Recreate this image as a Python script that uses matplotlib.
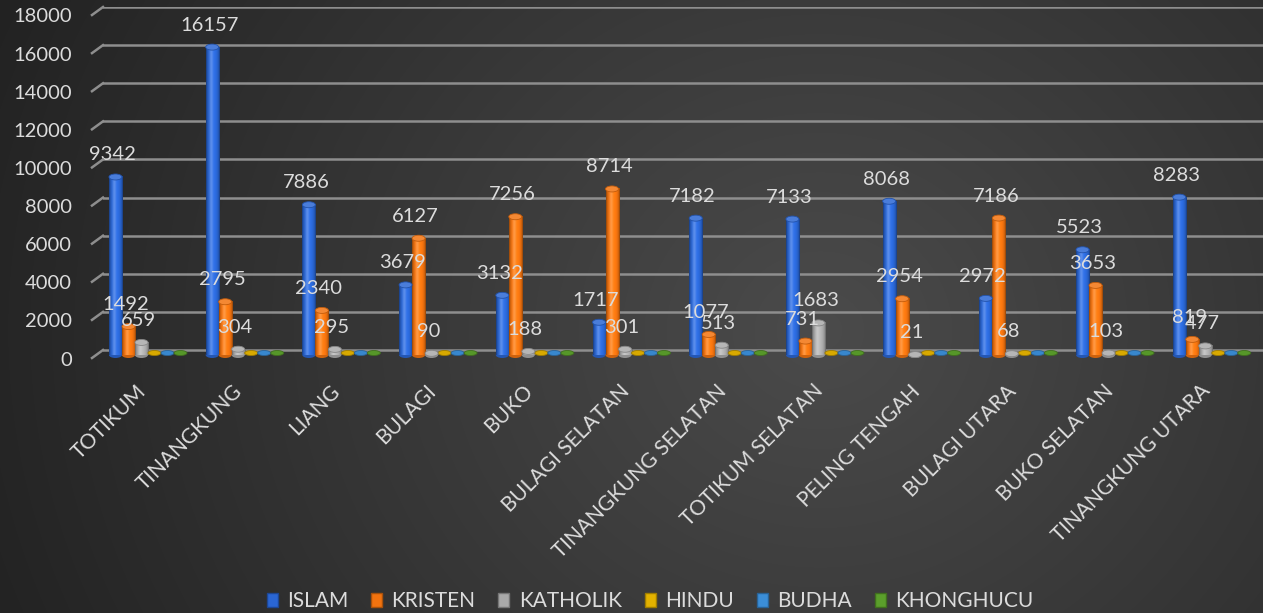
import numpy as np
import matplotlib
matplotlib.use("Agg")
import matplotlib.pyplot as plt
import matplotlib.colors as mcolors
from matplotlib.patches import Ellipse, Patch
from matplotlib.lines import Line2D

# ---------------- data ----------------
categories = ["TOTIKUM", "TINANGKUNG", "LIANG", "BULAGI", "BUKO", "BULAGI SELATAN",
              "TINANGKUNG SELATAN", "TOTIKUM SELATAN", "PELING TENGAH", "BULAGI UTARA",
              "BUKO SELATAN", "TINANGKUNG UTARA"]
islam = [9342, 16157, 7886, 3679, 3132, 1717, 7182, 7133, 8068, 2972, 5523, 8283]
kristen = [1492, 2795, 2340, 6127, 7256, 8714, 1077, 731, 2954, 7186, 3653, 819]
katholik = [659, 304, 295, 90, 188, 301, 513, 1683, 21, 68, 103, 477]
hindu = [0, 0, 0, 0, 0, 0, 0, 0, 0, 0, 0, 0]
budha = [0, 0, 0, 0, 0, 0, 0, 0, 0, 0, 0, 0]
khonghucu = [0, 0, 0, 0, 0, 0, 0, 0, 0, 0, 0, 0]
series_names = ["ISLAM", "KRISTEN", "KATHOLIK", "HINDU", "BUDHA", "KHONGHUCU"]
y_ticks = [0, 2000, 4000, 6000, 8000, 10000, 12000, 14000, 16000, 18000]

series = [islam, kristen, katholik, hindu, budha, khonghucu]
labelled = [True, True, True, False, False, False]
colors = ["#2a66d4", "#f2730f", "#a9a9a9", "#e3b200", "#3b8ed8", "#5b9f2b"]

FONT = "Lato"
TXT = "#dcdcdc"
W, H = 1263, 613
fig = plt.figure(figsize=(W / 100, H / 100), dpi=100)

# ---------------- background radial gradient ----------------
bg = fig.add_axes([0, 0, 1, 1], zorder=-10)
yy, xx = np.mgrid[0:H, 0:W]
d = np.sqrt(((xx - 820) / 1.0) ** 2 + ((yy - 330) / 0.9) ** 2)
t = np.clip(d / 900.0, 0, 1)
inner = np.array(mcolors.to_rgb("#4b4b4b"))
outer = np.array(mcolors.to_rgb("#222222"))
img = inner[None, None, :] * (1 - t[..., None]) + outer[None, None, :] * t[..., None]
bg.imshow(img, aspect="auto", extent=[0, 1, 0, 1], origin="upper")
bg.set_axis_off()

# ---------------- main axes ----------------
y0_px, ytop_px = 350, 7
px_per_y = (y0_px - ytop_px) / 18000.0
ylo = -600
bottom_px = y0_px - ylo * px_per_y
left_px = 103
ax = fig.add_axes([left_px / W, (H - bottom_px) / H, 1 - left_px / W, (bottom_px - ytop_px) / H])
ax.patch.set_alpha(0)
xmin, xmax = -0.465, 11.53
ax.set_xlim(xmin, xmax)
ax.set_ylim(ylo, 18000)
for s in ax.spines.values():
    s.set_visible(False)
ax.set_xticks([])
ax.set_yticks([])

grid_c = "#8e8e8e"
for v in y_ticks:
    ax.axhline(v, color=grid_c, lw=1.8, zorder=1)
    ypix = y0_px - v * px_per_y
    fig.add_artist(Line2D([92 / W, left_px / W], [(H - (ypix + 8)) / H, (H - ypix) / H],
                          transform=fig.transFigure, color=grid_c, lw=1.8))
    fig.text(72 / W, (H - (ypix + 10)) / H, str(v), ha="right", va="center",
             fontsize=14.5, color=TXT, family=FONT)

bw = 13 / 96.7
off = 5 / px_per_y  # bars stand slightly in front of the back wall


def cyl_rgb(base, n=64):
    c = np.array(mcolors.to_rgb(base))
    tt = np.linspace(0, 1, n)
    s = np.sqrt(np.clip(1 - (2 * tt - 1) ** 2, 0, 1))
    b = 0.5 + 0.6 * s
    col = c[None, :] * b[:, None]
    spec = np.exp(-((tt - 0.38) / 0.13) ** 2) * 0.22
    col = col + spec[:, None] * (1 - col)
    return np.clip(col, 0, 1)


cap_h = 6 / px_per_y
for j, (vals, col) in enumerate(zip(series, colors)):
    grad = cyl_rgb(col)[None, :, :]
    base = np.array(mcolors.to_rgb(col))
    for i, v in enumerate(vals):
        xc = i + (j - 2.5) * bw
        x0, x1 = xc - bw / 2, xc + bw / 2
        if v > 0:
            ax.add_patch(Ellipse((xc, -off), bw, cap_h, facecolor=np.clip(base * 0.85, 0, 1),
                                 edgecolor="none", zorder=3))
            ax.imshow(grad, extent=[x0, x1, -off, v - off], aspect="auto",
                      interpolation="bilinear", zorder=3)
            ax.add_patch(Ellipse((xc, v - off), bw, cap_h,
                                 facecolor=np.clip(base + (1 - base) * 0.15, 0, 1),
                                 edgecolor=np.clip(base * 0.8, 0, 1), lw=0.6, zorder=3.5))
        else:
            ax.add_patch(Ellipse((xc, -off * 0.6), bw, 5 / px_per_y,
                                 facecolor=np.clip(base * 0.95, 0, 1),
                                 edgecolor=np.clip(base * 0.7, 0, 1), lw=0.6, zorder=3))
        if labelled[j]:
            ax.annotate(str(v), (xc, v - off), xytext=(-3, 22), textcoords="offset pixels",
                        ha="center", va="center", fontsize=14.5, color=TXT,
                        family=FONT, zorder=6)

ax.set_xlim(xmin, xmax)
ax.set_ylim(ylo, 18000)

# ---------------- category labels ----------------
for i, cat in enumerate(categories):
    ax.annotate(cat, (i, 0), xytext=(-5, -38), textcoords="offset pixels",
                rotation=45, rotation_mode="anchor", ha="right", va="center",
                fontsize=15, color=TXT, family=FONT, annotation_clip=False)

# ---------------- legend ----------------
handles = [Patch(facecolor=c, edgecolor=np.clip(np.array(mcolors.to_rgb(c)) * 0.7, 0, 1))
           for c in colors]
fig.legend(handles, series_names, loc="center", bbox_to_anchor=(650 / W, 1 - 601 / H),
           ncol=6, frameon=False, handlelength=0.53, handleheight=0.67,
           columnspacing=1.1, handletextpad=0.45, labelcolor=TXT,
           prop={"family": FONT, "size": 15}, borderaxespad=0)

fig.savefig("out.png", dpi=100)
